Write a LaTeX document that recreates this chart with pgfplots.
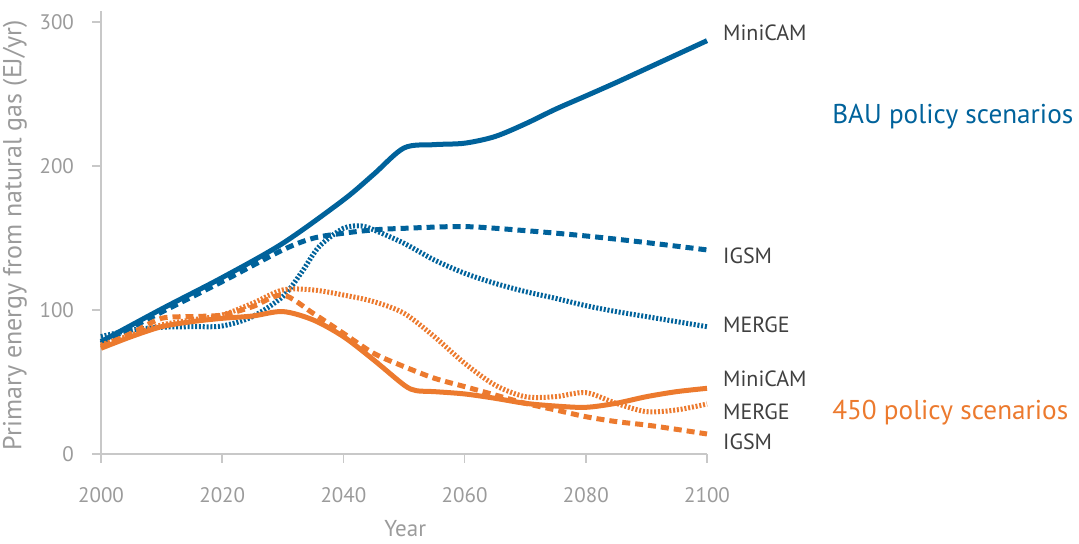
\documentclass[border=0pt]{standalone}
\usepackage{pgfplots}
\pgfplotsset{compat=1.18}
\usepackage{fontspec}
\setmainfont{PT Sans}
\definecolor{bau}{RGB}{0,98,155}
\definecolor{pol}{RGB}{236,122,46}
\definecolor{tickc}{RGB}{155,155,155}
\definecolor{axl}{RGB}{200,200,200}
\definecolor{lab}{RGB}{64,64,64}
\begin{document}
\begin{tikzpicture}
\useasboundingbox (0,0) rectangle (539.5pt,272pt);
\begin{axis}[
 at={(50.5pt,45pt)}, anchor=south west,
 scale only axis, width=303pt, height=221.5pt,
 xmin=2000, xmax=2100, ymin=0, ymax=307.6,
 axis x line*=bottom, axis y line*=left,
 axis line style={axl, line width=0.75pt, -},
 xtick={2000,2020,...,2100}, ytick={0,100,200,300},
 tick align=outside, major tick length=4.5pt,
 tick style={axl, line width=0.75pt},
 ticklabel style={font=\fontsize{10.5}{12}\selectfont, text=tickc},
 /pgf/number format/1000 sep={}, /pgf/number format/assume math mode=true,
 xticklabel style={anchor=base, yshift=-20pt},
 yticklabel style={anchor=east, xshift=-5.5pt},
 clip=false,
 every axis plot/.append style={line width=2.5pt, smooth, tension=0.5},
]
% BAU MiniCAM
\addplot[bau] coordinates {(2000,78.0)(2010,100.7)(2020,122.5)(2030,146.3)(2040,176.4)(2045,194.2)(2050,212.5)(2055,214.8)(2060,215.8)(2065,220.4)(2070,229.2)(2075,239.4)(2080,248.6)(2085,257.9)(2090,267.6)(2095,277.3)(2100,287.0)};
% BAU IGSM
\addplot[bau, dash pattern=on 4pt off 2.5pt] coordinates {(2000,76.9)(2010,98.5)(2020,119.7)(2030,141.7)(2035,149.8)(2040,153.3)(2045,155.6)(2050,156.7)(2060,157.9)(2070,155.1)(2080,151.4)(2090,146.8)(2100,141.7)};
% BAU MERGE
\addplot[bau, dash pattern=on 1pt off 0.9pt] coordinates {(2000,81.5)(2005,86.1)(2010,88.0)(2015,88.4)(2020,88.9)(2025,95.4)(2030,109.3)(2033,125.5)(2036,144)(2040,156.7)(2043,158.3)(2045,155.6)(2050,146.3)(2055,134.7)(2060,125.5)(2065,118.5)(2070,112.8)(2075,108.1)(2080,103.0)(2085,98.9)(2090,95.4)(2095,91.9)(2100,88.4)};
% 450 MiniCAM
\addplot[pol] coordinates {(2000,73.4)(2005,81.5)(2010,88.4)(2015,91.9)(2020,94.2)(2025,95.8)(2030,98.9)(2035,93.1)(2040,81.5)(2045,65.3)(2050,47.9)(2052,44.0)(2055,43.3)(2060,41.7)(2065,38.7)(2070,35.2)(2075,33.3)(2080,32.4)(2085,35.2)(2090,39.8)(2095,43.3)(2100,45.6)};
% 450 IGSM
\addplot[pol, dash pattern=on 4pt off 2.5pt] coordinates {(2000,74.5)(2005,83.8)(2010,94.2)(2015,95.4)(2020,96.5)(2025,102.3)(2030,110.4)(2035,97.7)(2040,83.8)(2045,69.9)(2050,60.7)(2055,52.6)(2060,46.8)(2065,41.0)(2070,35.2)(2075,30.6)(2080,25.9)(2085,22.5)(2090,20.1)(2095,17.1)(2100,13.9)};
% 450 MERGE
\addplot[pol, dash pattern=on 1pt off 0.9pt] coordinates {(2000,75.7)(2005,82.6)(2010,89.6)(2015,93.1)(2020,96.5)(2025,104.6)(2030,113.9)(2035,113.9)(2040,110.4)(2045,105.8)(2050,97.7)(2055,81.5)(2060,63.0)(2065,47.9)(2070,39.8)(2075,39.8)(2080,42.6)(2085,35.2)(2090,29.4)(2095,30.6)(2100,34.7)};
% labels
\begin{scope}[every node/.style={font=\fontsize{11}{13}\selectfont, text=lab, anchor=base west, inner sep=0pt}]
\node at (axis cs:2102.6,286.8) {MiniCAM};
\node at (axis cs:2102.6,132.6) {IGSM};
\node at (axis cs:2102.6,84.2) {MERGE};
\node at (axis cs:2102.6,47.2) {MiniCAM};
\node at (axis cs:2102.6,24.1) {MERGE};
\node at (axis cs:2102.6,3.3) {IGSM};
\end{scope}
\node[font=\fontsize{13.6}{16}\selectfont, text=bau, anchor=base west, inner sep=0pt] at (axis cs:2120.6,229.6) {BAU policy scenarios};
\node[font=\fontsize{13.6}{16}\selectfont, text=pol, anchor=base west, inner sep=0pt] at (axis cs:2120.6,24.1) {450 policy scenarios};
\node[font=\fontsize{11.5}{13}\selectfont, text=tickc, anchor=base, inner sep=0pt] at (axis cs:2050.2,-57.6) {Year};
\node[font=\fontsize{13}{15}\selectfont, text=tickc, rotate=90, anchor=center, inner sep=0pt] at (axis cs:1985.8,152) {Primary energy from natural gas (EJ/yr)};
\end{axis}
\end{tikzpicture}
\end{document}
